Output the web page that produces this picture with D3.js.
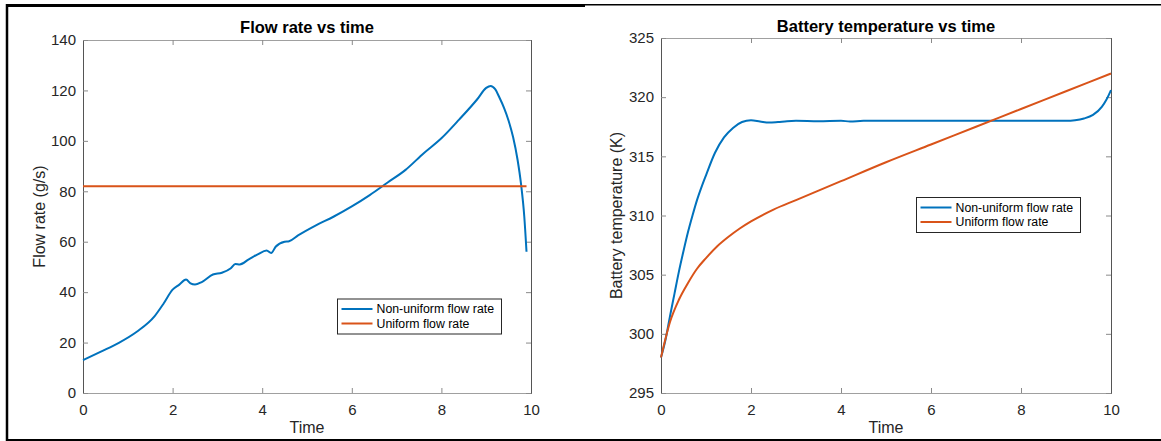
<!DOCTYPE html>
<html>
<head>
<meta charset="utf-8">
<script src="https://cdn.jsdelivr.net/npm/d3@7"></script>
<style>
  body { margin: 0; background: #fff; }
  svg { display: block; font-family: "Liberation Sans", Arial, Helvetica, sans-serif; }
</style>
</head>
<body>
<div id="chart"></div>
<script>
// ---- data ----
const FLOW_TIME = [0, 0.4, 0.8, 1.2, 1.6, 1.8, 2.0, 2.15, 2.3, 2.4, 2.5, 2.65, 2.9, 3.1, 3.3, 3.4, 3.5, 3.7, 3.9, 4.1, 4.2, 4.3, 4.5, 4.6, 4.8,
                   5.2, 5.6, 6.0, 6.4, 6.8, 7.2, 7.6, 8.0, 8.4, 8.8, 9.0, 9.1, 9.2, 9.3, 9.4, 9.5, 9.6, 9.7, 9.78, 9.85, 9.9];
const FLOW_NONUNIFORM = [13, 16.4, 19.9, 24.3, 30.5, 35.5, 41, 43, 45, 43.5, 43, 44, 47, 47.7, 49.5, 51.2, 51, 53, 55, 56.5, 55.5, 58, 60, 60.2, 62.5,
                         66.5, 70, 74, 78.5, 83.5, 88.5, 95, 101, 108.5, 116.5, 121, 121.8, 120.5, 117, 113, 108, 101.5, 92.5, 82.5, 70, 56];
const FLOW_UNIFORM_TIME = [0, 9.9];
const FLOW_UNIFORM = [82, 82];

const TEMP_TIME_NU = [0, 0.1, 0.2, 0.3, 0.4, 0.5, 0.6, 0.7, 0.8, 0.9, 1.0, 1.2, 1.4, 1.6, 1.8, 2.0, 2.2, 2.4, 2.6, 2.8, 3.0, 3.5, 4.0, 4.2, 4.5,
                      5, 6, 7, 8, 9, 9.2, 9.4, 9.6, 9.8, 9.9, 10];
const TEMP_NONUNIFORM = [298, 299.5, 301.5, 303.4, 305.3, 307.0, 308.6, 310.0, 311.3, 312.4, 313.4, 315.3, 316.6, 317.4, 317.9, 318.05, 317.95, 317.85, 317.9, 317.97, 318.0, 317.97, 318.0, 317.95, 318.0,
                         318, 318, 318, 318, 318, 318.05, 318.2, 318.5, 319.2, 319.8, 320.6];
const TEMP_TIME_U = [0, 0.2, 0.4, 0.6, 0.8, 1.0, 1.25, 1.5, 1.75, 2.0, 2.5, 3, 4, 5, 6, 7, 8, 9, 10];
const TEMP_UNIFORM = [298, 301.0, 302.9, 304.3, 305.5, 306.4, 307.4, 308.2, 308.9, 309.5, 310.5, 311.3, 312.9, 314.5, 316.0, 317.5, 319.0, 320.5, 322.0];

const X_TICKS = [0, 2, 4, 6, 8, 10];
const FLOW_TICKS = [0, 20, 40, 60, 80, 100, 120, 140];
const TEMP_TICKS = [295, 300, 305, 310, 315, 320, 325];
const LEGEND_LABELS = ['Non-uniform flow rate', 'Uniform flow rate'];

const BLUE = '#0072BD';
const ORANGE = '#D95319';

const WIDTH = 1161;
const HEIGHT = 441;

let svg = d3.select('#chart')
            .append('svg')
            .attr('width', WIDTH)
            .attr('height', HEIGHT);

// outer frame
svg.append('line').attr('x1', 6).attr('x2', 585).attr('y1', 5.5).attr('y2', 5.5)
   .attr('stroke', '#000').attr('stroke-width', 3);
svg.append('line').attr('x1', 585).attr('x2', WIDTH).attr('y1', 4.8).attr('y2', 4.8)
   .attr('stroke', '#000').attr('stroke-width', 1.5);
svg.append('line').attr('x1', 7).attr('x2', 7).attr('y1', 4).attr('y2', HEIGHT)
   .attr('stroke', '#000').attr('stroke-width', 2.5);
svg.append('line').attr('x1', 6).attr('x2', WIDTH).attr('y1', 440).attr('y2', 440)
   .attr('stroke', '#000').attr('stroke-width', 2);

function drawPanel(opt) {
    const X_SCALE = d3.scaleLinear().domain([0, 10]).range([opt.left, opt.right]);
    const Y_SCALE = d3.scaleLinear().domain(opt.yDomain).range([opt.bottom, opt.top]);

    let g = svg.append('g');

    // box axes, MATLAB style (ticks pointing inward)
    g.append('g')
     .attr('transform', 'translate(0,' + opt.bottom + ')')
     .call(d3.axisBottom(X_SCALE).tickValues(X_TICKS).tickSize(-5).tickPadding(11))
     .call(a => a.select('.domain').attr('stroke', '#a0a0a0'));
    g.append('g')
     .attr('transform', 'translate(0,' + opt.top + ')')
     .call(d3.axisTop(X_SCALE).tickValues(X_TICKS).tickSize(-5).tickFormat(''))
     .call(a => a.select('.domain').attr('stroke', '#a0a0a0'));
    g.append('g')
     .attr('transform', 'translate(' + opt.left + ',0)')
     .call(d3.axisLeft(Y_SCALE).tickValues(opt.yTicks).tickSize(-5).tickPadding(7))
     .call(a => a.select('.domain').attr('stroke', '#555'));
    g.append('g')
     .attr('transform', 'translate(' + opt.right + ',0)')
     .call(d3.axisRight(Y_SCALE).tickValues(opt.yTicks).tickSize(-5).tickFormat(''))
     .call(a => a.select('.domain').attr('stroke', '#555'));

    g.selectAll('.tick line').attr('stroke', '#8a8a8a');
    g.selectAll('.tick text')
     .attr('font-size', 15)
     .attr('fill', '#262626')
     .attr('font-family', '"Liberation Sans", Arial, sans-serif');

    // series
    const LINE = d3.line()
                   .curve(d3.curveMonotoneX)
                   .x(d => X_SCALE(d[0]))
                   .y(d => Y_SCALE(d[1]));
    opt.series.forEach((s) => {
        g.append('path')
         .datum(d3.zip(s.x, s.y))
         .attr('fill', 'none')
         .attr('stroke', s.color)
         .attr('stroke-width', 2)
         .attr('stroke-linejoin', 'round')
         .attr('d', LINE);
    });

    // title and labels
    g.append('text')
     .attr('x', (opt.left + opt.right) / 2)
     .attr('y', opt.titleY)
     .attr('text-anchor', 'middle')
     .attr('font-size', 16.5)
     .attr('font-weight', 'bold')
     .attr('fill', '#000')
     .text(opt.title);

    g.append('text')
     .attr('x', (opt.left + opt.right) / 2)
     .attr('y', 433)
     .attr('text-anchor', 'middle')
     .attr('font-size', 16)
     .attr('fill', '#262626')
     .text('Time');

    g.append('text')
     .attr('transform', 'translate(' + opt.yLabelX + ',' + ((opt.top + opt.bottom) / 2) + ') rotate(-90)')
     .attr('text-anchor', 'middle')
     .attr('font-size', 16)
     .attr('fill', '#262626')
     .text(opt.yLabel);

    // legend
    let lg = g.append('g').attr('transform', 'translate(' + opt.legend[0] + ',' + opt.legend[1] + ')');
    lg.append('rect')
      .attr('x', 0).attr('y', 0)
      .attr('width', 164).attr('height', 35)
      .attr('fill', '#fff')
      .attr('stroke', '#262626')
      .attr('stroke-width', 1);
    LEGEND_LABELS.forEach((name, i) => {
        lg.append('line')
          .attr('x1', 4).attr('x2', 35)
          .attr('y1', 10 + i * 14.5).attr('y2', 10 + i * 14.5)
          .attr('stroke', opt.series[i].color)
          .attr('stroke-width', 2);
        lg.append('text')
          .attr('x', 39)
          .attr('y', 10 + i * 14.5)
          .attr('dy', '0.35em')
          .attr('font-size', 12.3)
          .attr('fill', '#000')
          .text(name);
    });
}

drawPanel({
    left: 83, right: 531, top: 40, bottom: 393,
    yDomain: [0, 140], yTicks: FLOW_TICKS,
    title: 'Flow rate vs time', titleY: 32.5,
    yLabel: 'Flow rate (g/s)', yLabelX: 45,
    legend: [337.5, 299],
    series: [
        { x: FLOW_TIME, y: FLOW_NONUNIFORM, color: BLUE },
        { x: FLOW_UNIFORM_TIME, y: FLOW_UNIFORM, color: ORANGE }
    ]
});

drawPanel({
    left: 661, right: 1111, top: 38, bottom: 393,
    yDomain: [295, 325], yTicks: TEMP_TICKS,
    title: 'Battery temperature vs time', titleY: 31.5,
    yLabel: 'Battery temperature (K)', yLabelX: 622,
    legend: [916.5, 197.5],
    series: [
        { x: TEMP_TIME_NU, y: TEMP_NONUNIFORM, color: BLUE },
        { x: TEMP_TIME_U, y: TEMP_UNIFORM, color: ORANGE }
    ]
});
</script>
</body>
</html>
